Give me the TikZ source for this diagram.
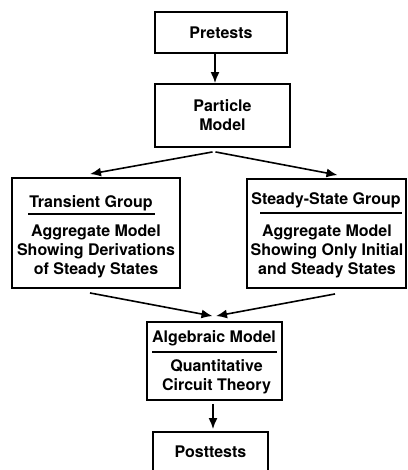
\documentclass[tikz,border=0pt]{standalone}
\usepackage{fontspec}
\setmainfont{TeX Gyre Heros}
\usepackage{tikz}
\usetikzlibrary{arrows.meta}
\tikzset{>={Latex[width=9pt,length=11pt]}}
\tikzset{box/.style={draw=black, line width=1.9pt, inner sep=0pt},
  txt/.style={inner sep=0pt, align=center, font=\fontsize{16}{19}\selectfont\bfseries}}

\begin{document}
\begin{tikzpicture}[x=1pt, y=-1pt, line width=1.6pt]
    \useasboundingbox (0,0) rectangle (407,470);
    \node[box, txt, minimum width=132pt, minimum height=41pt] (Pre) at (221,32.5) {Pretests};
    \node[box, txt, minimum width=135pt, minimum height=63pt] (Part) at (222.5,115.5) {Particle\\Model};
    \node[box, minimum width=168pt, minimum height=110pt] (Trans) at (96,233) {};
    \node[box, minimum width=159pt, minimum height=109pt] (Steady) at (326.5,233.5) {};
    \node[box, minimum width=135pt, minimum height=78pt] (Alg) at (214.5,361) {};
    \node[box, txt, minimum width=115pt, minimum height=40pt] (Post) at (210.5,452) {Posttests};
    % split boxes
    \node[txt] (TransHead) at (91,203) {Transient Group};
    \draw (28,214) -- (155,214);
    \node[txt] (TransBody) at (96,251) {Aggregate Model\\Showing Derivations\\of Steady States};
    \node[txt] (SteadyHead) at (326,200) {Steady-State Group};
    \draw (260,213) -- (402,213);
    \node[txt] (SteadyBody) at (327,251) {Aggregate Model\\Showing Only Initial\\and Steady States};
    \node[txt] (AlgHead) at (214,338) {Algebraic Model};
    \draw (152,352) -- (277,352);
    \node[txt] (AlgBody) at (216.5,377) {Quantitative\\Circuit Theory};
    % arrows
    \draw[->] ([xshift=-6pt]Pre.south) -- ([xshift=-7.5pt]Part.north);
    \draw[->] ([xshift=-10pt,yshift=-4pt]Part.south) -- ([xshift=-6pt,yshift=3pt]Trans.north);
    \draw[->] ([xshift=-7pt,yshift=-4pt]Part.south) -- ([xshift=11pt,yshift=3pt]Steady.north);
    \draw[->] ([xshift=-6pt,yshift=-4pt]Trans.south) -- ([xshift=-2pt,yshift=5pt]Alg.north);
    \draw[->] ([xshift=8.5pt,yshift=-5pt]Steady.south) -- ([xshift=1.5pt,yshift=5pt]Alg.north);
    \draw[->] ([xshift=-1.5pt,yshift=-3pt]Alg.south) -- ([xshift=2.5pt,yshift=2pt]Post.north);
\end{tikzpicture}
\end{document}
